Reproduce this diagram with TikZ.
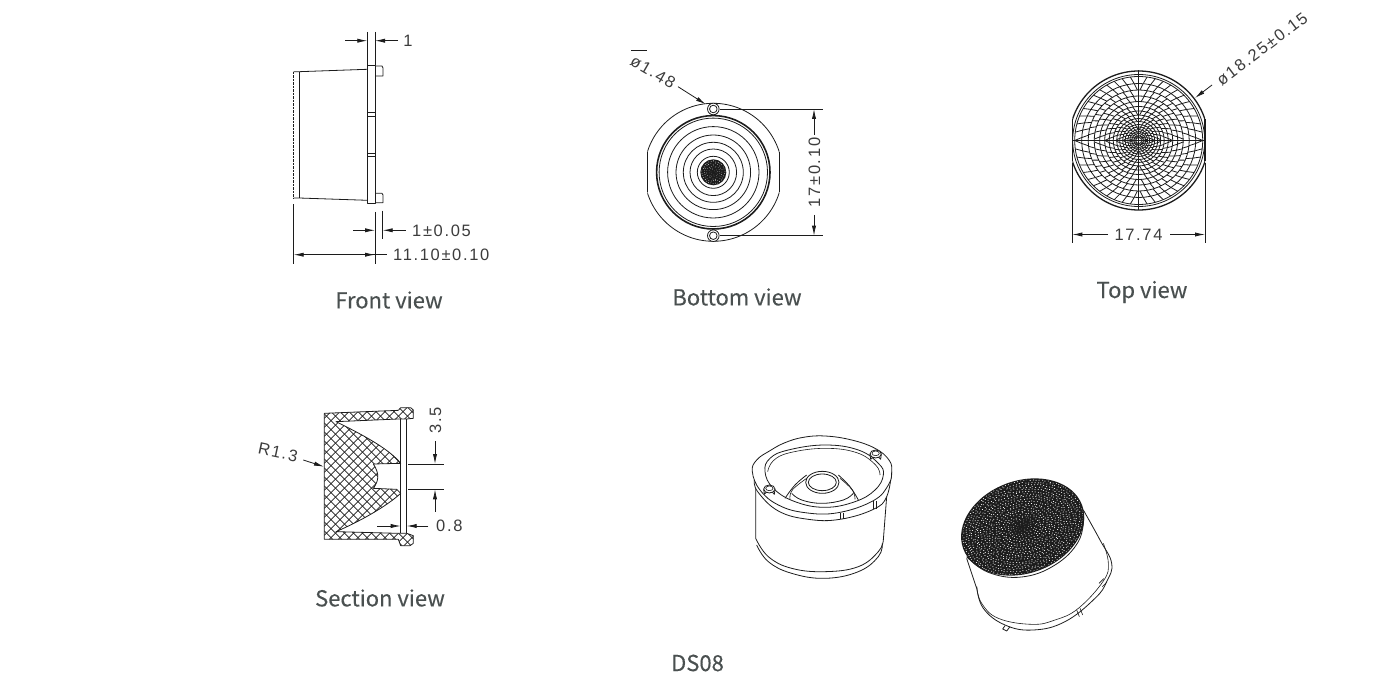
\documentclass[tikz,border=0pt]{standalone}
\usepackage{fontspec}
\usepackage{xcolor}
\usepackage{tikz}
\usetikzlibrary{calc, arrows.meta}
\newfontfamily\capfont[FakeBold=0.25]{Noto Sans CJK SC}
\newfontfamily\dimfont[LetterSpace=10]{Liberation Sans}
\definecolor{capgray}{HTML}{4A5050}
\definecolor{dimgray}{HTML}{3C3C3C}
\definecolor{inkblack}{HTML}{1C1C1C}
\tikzset{
  part/.style={draw=inkblack, line width=0.8pt, line join=round},
  thin part/.style={draw=inkblack, line width=0.6pt, line join=round},
  dimline/.style={draw=inkblack, line width=0.8pt},
  dimarrow/.style={dimline, -{Latex[length=10pt,width=4.2pt]}},
  caption/.style={text=capgray, font=\capfont\fontsize{22}{22}\selectfont, inner sep=0pt},
  dimtext/.style={text=dimgray, font=\dimfont\fontsize{16.5}{17}\selectfont, inner sep=0pt},
}
% speckle used on the lens faces: rings of small dots
\newcommand{\meshdots}[3]{%
  \foreach \k in {1,...,#1}{
    \pgfmathtruncatemacro{\cnt}{6*\k}
    \pgfmathsetmacro{\dotr}{#3*min(1,(\k+3)/9)}
    \foreach \j in {1,...,\cnt}{
      \fill[white] ({360/\cnt*\j+\k*11}:{(\k+0.35*rand)*#2}) circle [radius=\dotr];
    }
  }%
}
\pgfmathsetseed{8}
\begin{document}
\begin{tikzpicture}[x=1pt, y=-1pt]
\useasboundingbox (0,0) rectangle (1400,700);
% captions %
\node[caption] (frontcap) at (389,300) {Front view};
\node[caption] (bottomcap) at (737,297) {Bottom view};
\node[caption] (topcap) at (1142,292) {Top view};
\node[caption] (sectioncap) at (380,598) {Section view};
\node[caption] (modelcap) at (697.5,663) {DS08};

% front view %
\draw[part, dash pattern=on 2.5pt off 1pt] (293.7,71.7) -- (293.7,198);
\draw[part] (293.7,71.7) -- (299,71.7) -- (367.3,69.3);
\draw[part] (293.7,198) -- (299,198) -- (367.3,200.3);
\draw[part] (299,71.7) -- (299,198);
\draw[part] (367.3,65.3) rectangle (375,203.7);
\draw[part] (375,66) -- (382,66) -- (383,68) -- (383,76) -- (375,76);
\draw[part] (375,193.3) -- (382,193.3) -- (383,195) -- (383,202.7) -- (375,202.7);
\foreach \ya in {112.7,116,153.3,156.7}
  \draw[thin part] (367.3,\ya) -- (375,\ya);
% front view dimensions %
\draw[dimline] (367.3,32) -- (367.3,65) (375,32) -- (375,65);
\draw[dimarrow] (345,40.7) -- (367.3,40.7);
\draw[dimarrow] (398,40.7) -- (375,40.7);
\node[dimtext] (dimone) at (408,41) {1};
\draw[dimline] (375,212) -- (375,264) (382.7,210.7) -- (382.7,239);
\draw[dimarrow] (353,230.3) -- (375,230.3);
\draw[dimarrow] (405.7,230.3) -- (382.7,230.3);
\node[dimtext, anchor=west] (dimflange) at (412,231) {1±0.05};
\draw[dimline] (293.7,204.3) -- (293.7,264);
\draw[dimarrow] (386.7,254.7) -- (293.7,254.7);
\draw[dimarrow] (300,254.7) -- (375,254.7);
\node[dimtext, anchor=west] (dimlength) at (393,255) {11.10±0.10};

% bottom view %
\begin{scope}[shift={(713.3,172.3)}]
  \begin{scope}
    \clip (-66,-80) rectangle (66,80);
    \draw[part] (0,0) circle [radius=69];
  \end{scope}
  \draw[part] (-66,-20) -- (-66,20) (66,-20) -- (66,20);
  \draw[draw=inkblack, line width=1.6pt] (0,0) circle [radius=56.7];
  \draw[part] (0,0) circle [radius=54.2];
  \foreach \ra in {45.7,37.3,30,23.3,16}
    \draw[part] (0,0) circle [radius=\ra];
  \fill[inkblack] (0,0) circle [radius=13];
  \meshdots{5}{2.2}{0.45}
  \foreach \ya in {-63.3,63.4}{
    \draw[part, fill=white] (0,\ya) circle [radius=5.8];
    \draw[part] (0,\ya) circle [radius=3.8];
  }
\end{scope}
% bottom view dimensions %
\draw[dimline] (720,109) -- (823,109) (720,235.7) -- (823,235.7);
\draw[dimarrow] (814,135) -- (814,109);
\draw[dimarrow] (814,215) -- (814,235.7);
\node[dimtext, rotate=90] (dimpitch) at (814.5,172.5) {17±0.10};
\draw[dimarrow] (678,86.7) -- (705.7,104.3);
\node[dimtext, rotate=-30] (dimpin) at (653,72) {ø1.48};
\draw[dimline, line width=0.6pt] (631,50.3) -- (647,50.3);

% top view %
\begin{scope}[shift={(1138.7,140.5)}]
  % rows of cells, one quadrant mirrored four times
  \foreach \sx/\sy in {1/1,-1/1,1/-1,-1/-1}{
    \begin{scope}[xscale=\sx, yscale=\sy]
      \foreach \ra/\rb/\cells/\drift in {64/57/12/0, 57/50.5/12/0.4, 50.5/44.5/11/0.8, 44.5/39/10/0.2,
          39/34/10/0.6, 34/29.5/9/0, 29.5/25.5/9/0.4, 25.5/22/8/0.8, 22/19/8/0.2, 19/16/8/0.6,
          16/13.5/7/0, 13.5/11/6/0.4, 11/9/6/0.8, 9/7/5/0.2, 7/5/5/0.6, 5/3/4/0}{
        \foreach \j in {1,...,\cells}{
          \pgfmathsetmacro{\aa}{(\j-1+\drift)*90/\cells}
          \pgfmathsetmacro{\ab}{(\j-1+\drift+0.4)*90/\cells}
          \ifdim \ab pt<90pt
            \draw[part] (\aa:\ra) -- (\ab:\rb);
          \fi
        }
      }
    \end{scope}
  }
  \foreach \ra in {57,50.5,44.5,39,34,29.5,25.5,22,19,16,13.5,11,9,7,5,3}
    \draw[part] (0,0) circle [radius=\ra];
  \draw[part] (-66,0) -- (66,0) (0,-70) -- (0,70);
  \draw[part] (0,0) circle [radius=64];
  \draw[part] (0,0) circle [radius=66];
  \begin{scope}
    \clip (-66.3,-80) rectangle (66.3,80);
    \draw[draw=inkblack, line width=1.3pt] (0,0) circle [radius=69.5];
  \end{scope}
  \draw[draw=inkblack, line width=1.3pt] (-66.3,-21) -- (-66.3,21) (66.3,-21) -- (66.3,21);
\end{scope}
% top view dimensions %
\draw[dimline] (1072.3,163) -- (1072.3,243) (1205,163) -- (1205,243);
\draw[dimarrow] (1108,234.5) -- (1072.3,234.5);
\draw[dimarrow] (1170,234.5) -- (1205,234.5);
\node[dimtext] (dimwidth) at (1138.5,234.5) {17.74};
\draw[dimarrow] (1212,85) -- (1195,98);
\node[dimtext, rotate=37] (dimdia) at (1262,49) {ø18.25±0.15};

% section view %
\begin{scope}[shift={(250,395)}, scale=1/3]
  \begin{scope}
    \clip (223,55) -- (445,46) -- (452,38) -- (482,38) -- (490,45) -- (490,70) -- (470,72)
      -- (445,72) -- (258,80) .. controls (350,125) and (420,165) .. (452,205)
      -- (370,207) .. controls (388,235) and (388,255) .. (370,280) -- (440,283) -- (452,295)
      .. controls (420,325) and (350,370) .. (258,410) -- (445,415) -- (470,415) -- (490,422)
      -- (490,445) -- (480,452) -- (452,452) -- (445,433) -- (223,433) -- cycle;
    \foreach \i in {-30,...,30}{
      \draw[part, line width=0.7pt] (223+\i*27,30) -- ++(450,450);
      \draw[part, line width=0.7pt] (223+\i*27+13,30) -- ++(-450,450);
    }
  \end{scope}
  \draw[part] (223,55) -- (445,46) -- (452,38) -- (482,38) -- (490,45) -- (490,70) -- (470,72)
      -- (445,72) -- (258,80) .. controls (350,125) and (420,165) .. (452,205)
      -- (370,207) .. controls (388,235) and (388,255) .. (370,280) -- (440,283) -- (452,295)
      .. controls (420,325) and (350,370) .. (258,410) -- (445,415) -- (470,415) -- (490,422)
      -- (490,445) -- (480,452) -- (452,452) -- (445,433) -- (223,433) -- cycle;
  \draw[draw=inkblack, line width=1pt] (452,72) -- (452,415) (470,72) -- (470,415);
\end{scope}
% section view dimensions %
\draw[dimline] (408.3,464) -- (444,464) (408.3,489.3) -- (444,489.3);
\draw[dimarrow] (435,441) -- (435,464);
\draw[dimarrow] (435,511.7) -- (435,489.3);
\node[dimtext, rotate=90] (dimcup) at (435.5,420.5) {3.5};
\draw[dimarrow] (377.3,526) -- (400.7,526);
\draw[dimarrow] (428.3,526) -- (406.7,526);
\node[dimtext, anchor=west] (dimplate) at (436,526) {0.8};
\draw[dimarrow] (303.3,460) -- (324,466.7);
\node[dimtext, rotate=-12] (dimradius) at (278,452.5) {R1.3};

% open side of the lens %
\begin{scope}[shift={(745,430)}, scale=1/3]
  % body
  \draw[part] (32,170) -- (32,325) plot[smooth, tension=.7] coordinates {(32,325) (70,380) (140,415) (240,425) (340,410) (400,365) (415,330)};
  \draw[part] (425,200) -- (415,330);
  \draw[part] plot[smooth, tension=.7] coordinates {(35,345) (70,395) (140,430) (240,445) (340,425) (400,380) (412,340)};
  % rim
  \draw[part, fill=white] plot[smooth, tension=.7] coordinates {(28,150) (38,185) (100,243) (190,268) (285,268) (385,238) (425,200) (440,125)};
  \draw[part, fill=white] plot[smooth cycle, tension=.7] coordinates {(22,125) (35,90) (75,62) (120,38) (175,22) (240,18) (320,30) (390,55) (432,90) (440,125) (430,165) (385,212) (280,248) (180,248) (100,225) (45,180)};
  \foreach \xa in {285,295}
    \draw[thin part] (\xa,249) -- (\xa,268);
  \foreach \xa in {385,395}
    \draw[thin part] (\xa,214) -- (\xa,238);
  % recess
  \draw[part] plot[smooth cycle, tension=.7] coordinates {(60,125) (75,85) (130,60) (240,45) (340,60) (400,100) (415,135) (390,180) (330,215) (240,232) (150,215) (85,175)};
  \draw[thin part] plot[smooth, tension=.7] coordinates {(68,125) (85,92) (135,68) (240,55) (335,68) (392,105) (405,135)};
  % cone
  \draw[part] plot[smooth, tension=.7] coordinates {(120,205) (150,165) (185,135)};
  \draw[part] plot[smooth, tension=.7] coordinates {(340,210) (315,170) (280,135)};
  \draw[thin part] plot[smooth, tension=.7] coordinates {(135,208) (142,180) (185,145)};
  \draw[thin part] plot[smooth, tension=.7] coordinates {(330,208) (322,180) (285,145)};
  \draw[part] plot[smooth, tension=.7] coordinates {(140,190) (170,210) (230,220) (295,210) (325,190)};
  \draw[part] (232,157) ellipse [x radius=50, y radius=33];
  \draw[part] (232,157) ellipse [x radius=42, y radius=25];
  % pins
  \foreach \xa/\ya in {73/177,392/72}{
    \draw[part, fill=white] (\xa-17,\ya) -- (\xa-15,\ya+16) arc[start angle=180, end angle=360, x radius=15, y radius=7] -- (\xa+17,\ya);
    \draw[part, fill=white] (\xa,\ya) ellipse [x radius=17, y radius=12];
    \draw[thin part] (\xa,\ya-2) ellipse [x radius=11, y radius=7];
  }
\end{scope}

% faceted side of the lens %
\begin{scope}[shift={(955,475)}, scale=1/3]
  \draw[part] (150,452) -- (143,462) -- (155,468) -- (165,455);
  \draw[part] plot[smooth, tension=.7] coordinates {(385,105) (435,195) (470,265) (455,320) (420,370) (330,440) (235,465) (150,450) (85,400) (65,335)};
  \draw[thin part] plot[smooth, tension=.7] coordinates {(445,205) (460,265) (445,318) (370,400) (300,435) (230,448) (130,430) (80,385) (65,335)};
  \draw[part] (35,250) -- (65,340);
  \foreach \xa/\ya in {365/405,375/400}
    \draw[thin part] (\xa,\ya) -- ++(8,20);
  \foreach \xa/\ya in {432/325,442/335}
    \draw[thin part] (\xa,\ya) -- ++(14,-14);
  \draw[part] plot[smooth, tension=.7] coordinates {(35,245) (100,292) (200,306) (300,270) (370,200) (386,125)};
  \begin{scope}[shift={(203,156)}, rotate=20]
    \fill[inkblack] (0,0) ellipse [x radius=190, y radius=139];
    \begin{scope}[xscale=1, yscale=139/190]
      \clip (0,0) circle [radius=186];
      \meshdots{20}{9.2}{1.9}
    \end{scope}
  \end{scope}
\end{scope}
\end{tikzpicture}
\end{document}
